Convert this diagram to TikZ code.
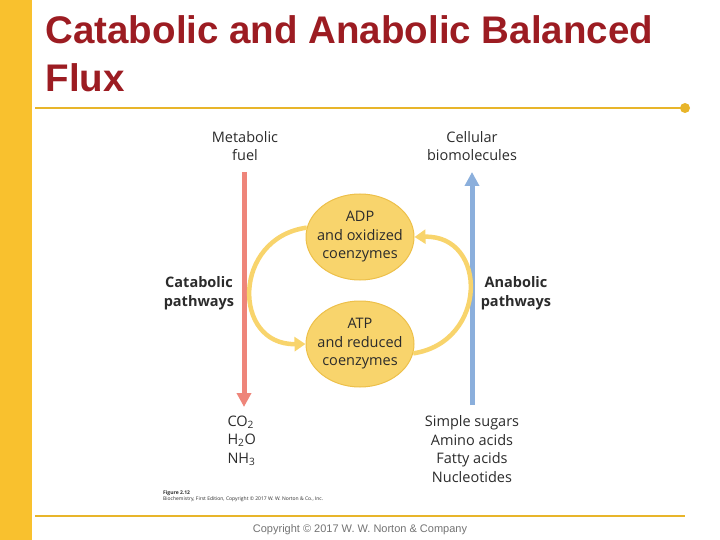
\documentclass[tikz,border=0pt]{standalone}
\usepackage{fontspec}
\setmainfont{Open Sans}
\newfontfamily\arialf{Liberation Sans}
\usetikzlibrary{arrows.meta,shapes.geometric}
\definecolor{bar}{HTML}{F9C12E}
\definecolor{ttl}{HTML}{9C1C22}
\definecolor{gold}{HTML}{E8B52A}
\definecolor{redar}{HTML}{EE857A}
\definecolor{bluear}{HTML}{8BAFDC}
\definecolor{ellf}{HTML}{F8D46C}
\definecolor{elld}{HTML}{EDC04A}
\definecolor{txt}{HTML}{2B2B2B}
\begin{document}
\begin{tikzpicture}[x=1pt,y=-1pt,
  lbl/.style={font=\fontsize{14.5}{18.5}\selectfont,text=txt,align=center},
  blbl/.style={lbl,font=\fontsize{14.5}{18.5}\selectfont\bfseries},
  ell/.style={ellipse,fill=ellf,draw=elld,line width=1pt,minimum width=108pt,minimum height=86pt,inner sep=-6pt},
  cyc/.style={draw=ellf,line width=4.5pt,-{Triangle[length=11pt,width=14pt]}}]
\useasboundingbox (0,0) rectangle (720,540);
\fill[bar] (0,0) rectangle (32,540);
\node[anchor=west,text=ttl,align=left,font=\arialf\fontsize{38.5}{48}\selectfont\bfseries] (title) at (42,54) {Catabolic and Anabolic Balanced\\Flux};
\coordinate (l1a) at (35,108); \coordinate (l1b) at (685,108);
\draw[gold,line width=2pt] (l1a) -- (l1b);
\fill[gold] (l1b) circle (5);
\coordinate (l2a) at (35,516); \coordinate (l2b) at (685,516);
\draw[gold,line width=2pt] (l2a) -- (l2b);
\node[font=\arialf\fontsize{11}{13}\selectfont,text=gray!90!black] (copy) at (360,530) {Copyright © 2017 W. W. Norton \& Company};
% text
\node[lbl] (fuel) at (245,146) {Metabolic\\fuel};
\node[lbl] (cell) at (472,146) {Cellular\\biomolecules};
\node[blbl] (cat) at (199,293) {Catabolic\\pathways};
\node[blbl] (ana) at (516,293) {Anabolic\\pathways};
\node[lbl,align=left,anchor=north west] (waste) at (224,412) {CO\textsubscript{2}\\H\textsubscript{2}O\\NH\textsubscript{3}};
\node[lbl,anchor=north] (simple) at (472,412) {Simple sugars\\Amino acids\\Fatty acids\\Nucleotides};
\node[anchor=north west,align=left,font=\fontsize{5}{6}\selectfont,text=txt,inner sep=0pt] (fig) at (163,490) {\textbf{Figure 2.12}\\Biochemistry, First Edition, Copyright © 2017 W. W. Norton \& Co., Inc.};
% vertical arrows
\coordinate (rs) at (244,172); \coordinate (re) at (244,407);
\draw[redar,line width=5pt,-{Triangle[length=14pt,width=14pt]}] (rs) -- (re);
\coordinate (bs) at (472,405); \coordinate (be) at (472,172);
\draw[bluear,line width=5pt,-{Triangle[length=14pt,width=14pt]}] (bs) -- (be);
% ellipses
\node[ell,lbl] (adp) at (360,237) {ADP\\and oxidized\\coenzymes};
\node[ell,lbl] (atp) at (360,344) {ATP\\and reduced\\coenzymes};
\draw[cyc] (adp.170) .. controls (232,238) and (232,345) .. (atp.west);
\draw[cyc] (atp.-10) .. controls (488,342) and (488,235) .. (adp.east);
\end{tikzpicture}
\end{document}
